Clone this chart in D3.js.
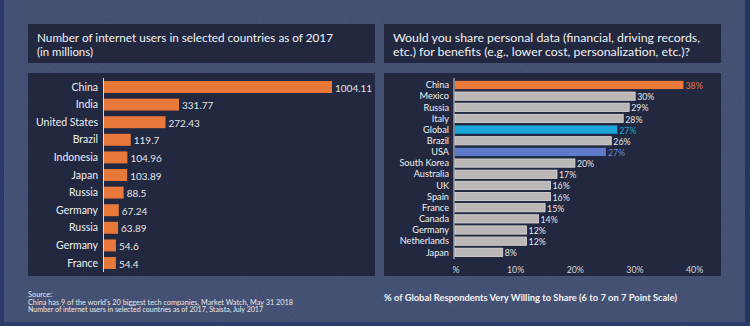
<!DOCTYPE html>
<html><head><meta charset="utf-8">
<script src="https://cdn.jsdelivr.net/npm/d3@7"></script>
<style>
html,body{margin:0;padding:0;background:#3d4a6c;}
svg{display:block;}
text{font-family:"Lato","Open Sans",sans-serif;}
</style></head>
<body>
<svg id="c" width="750" height="326"></svg>
<script>
// ---- Left chart data ----
const leftCountries = ["China","India","United States","Brazil","Indonesia","Japan","Russia","Germany","Russia","Germany","France"];
const leftValues = [1004.11,331.77,272.43,119.7,104.96,103.89,88.5,67.24,63.89,54.6,54.4];
const leftLabels = ["1004.11","331.77","272.43","119.7","104.96","103.89","88.5","67.24","63.89","54.6","54.4"];

// ---- Right chart data ----
const rightCountries = ["China","Mexico","Russia","Italy","Global","Brazil","USA","South Korea","Australia","UK","Spain","France","Canada","Germany","Netherlands","Japan"];
const rightValues = [38.3,30.2,29.2,28.2,27.2,26.2,25.3,20.1,17.1,16,16,15.1,14,12,12,8];
const rightLabels = ["38%","30%","29%","28%","27%","26%","27%","20%","17%","16%","16%","15%","14%","12%","12%","8%"];
const rightTicks = [0,10,20,30,40];
const rightTickLabels = ["%","10%","20%","30%","40%"];

const svg = d3.select("#c");

// texture background
const defs = svg.append("defs");
const f = defs.append("filter").attr("id","tex").attr("x",0).attr("y",0).attr("width","100%").attr("height","100%");
f.append("feTurbulence").attr("type","fractalNoise").attr("baseFrequency","0.9").attr("numOctaves",2).attr("seed",3).attr("result","n");
f.append("feColorMatrix").attr("in","n").attr("type","matrix")
 .attr("values","0 0 0 0 0.25  0 0 0 0 0.3  0 0 0 0 0.45  0 0 0 0.35 0");
svg.append("rect").attr("width",750).attr("height",326).attr("fill","#3f4b6e");
svg.append("rect").attr("width",750).attr("height",326).attr("filter","url(#tex)").attr("opacity",0.5);
svg.append("rect").attr("x",0).attr("y",0).attr("width",4).attr("height",326).attr("fill","#2b3a6a");
svg.append("rect").attr("x",745).attr("y",0).attr("width",5).attr("height",326).attr("fill","#24365f");
svg.append("rect").attr("x",0).attr("y",322).attr("width",750).attr("height",4).attr("fill","#2a3d6a");

const panel = "#212840";
// left panels
svg.append("rect").attr("x",28).attr("y",24).attr("width",347).attr("height",39).attr("fill",panel);
svg.append("rect").attr("x",28).attr("y",73).attr("width",347).attr("height",203).attr("fill",panel);
// right panels
svg.append("rect").attr("x",384).attr("y",24).attr("width",337).attr("height",39).attr("fill",panel);
svg.append("rect").attr("x",384).attr("y",73).attr("width",337).attr("height",203).attr("fill",panel);

// titles
const tl = svg.append("text").attr("y",42).attr("fill","#f2f2f2").attr("font-size",12);
tl.append("tspan").attr("x",37).attr("textLength",296).attr("lengthAdjust","spacingAndGlyphs").text("Number of internet users in selected countries as of 2017");
tl.append("tspan").attr("x",37).attr("dy",14).attr("textLength",56).attr("lengthAdjust","spacingAndGlyphs").text("(in millions)");
const tr = svg.append("text").attr("y",42).attr("fill","#f2f2f2").attr("font-size",12);
tr.append("tspan").attr("x",393).attr("textLength",307).attr("lengthAdjust","spacingAndGlyphs").text("Would you share personal data (financial, driving records,");
tr.append("tspan").attr("x",393).attr("dy",14).attr("textLength",297).attr("lengthAdjust","spacingAndGlyphs").text("etc.) for benefits (e.g., lower cost, personalization, etc.)?");

// ---- Left chart ----
const lx = d3.scaleLinear().domain([0,1004.11]).range([103.5,332]);
const ly = d3.scaleBand().domain(d3.range(leftCountries.length)).range([78.2,271.8]).paddingInner(0.32).paddingOuter(0.16);
const lg = svg.append("g");
lg.selectAll("rect.bar").data(leftValues).join("rect").attr("class","bar")
  .attr("x",lx(0)).attr("y",(d,i)=>ly(i)).attr("width",d=>lx(d)-lx(0)).attr("height",ly.bandwidth())
  .attr("fill","#e8793a");
lg.append("line").attr("x1",103.5).attr("x2",103.5).attr("y1",78).attr("y2",272).attr("stroke","#d9d9d9").attr("stroke-width",1);
lg.selectAll("text.cat").data(leftCountries).join("text").attr("class","cat")
  .attr("x",98).attr("y",(d,i)=>ly(i)+ly.bandwidth()/2).attr("dy","0.35em")
  .attr("text-anchor","end").attr("fill","#f0f0f0").attr("font-size",10.5).text(d=>d);
lg.selectAll("text.val").data(leftValues).join("text").attr("class","val")
  .attr("x",d=>lx(d)+3).attr("y",(d,i)=>ly(i)+ly.bandwidth()/2+1).attr("dy","0.35em")
  .attr("fill","#e6e6e6").attr("font-size",10).text((d,i)=>leftLabels[i]);

// source
const src = svg.append("text").attr("fill","#e8e8e8").attr("font-size",6.6);
src.append("tspan").attr("x",28).attr("y",297).attr("textLength",24).attr("lengthAdjust","spacingAndGlyphs").text("Source:");
src.append("tspan").attr("x",28).attr("y",304.5).attr("textLength",265).attr("lengthAdjust","spacingAndGlyphs").text("China has 9 of the world\u2019s 20 biggest tech companies, Market Watch, May 31 2018");
src.append("tspan").attr("x",28).attr("y",312).attr("textLength",235).attr("lengthAdjust","spacingAndGlyphs").text("Number of internet users in selected countries as of 2017, Staista, July 2017");

// ---- Right chart ----
const rx = d3.scaleLinear().domain([0,40]).range([455,693.6]);
const ry = d3.scaleBand().domain(d3.range(rightCountries.length)).range([79.4,257.9]).paddingInner(0.26).paddingOuter(0.13);
const colorFor = c => c==="China" ? "#e8793a" : c==="Global" ? "#1ba6dc" : c==="USA" ? "#5d7acb" : "#bcb7b7";
const labelColor = c => c==="China" ? "#e8793a" : c==="Global" ? "#1ba6dc" : c==="USA" ? "#7088cc" : "#e6e6e6";
const rg = svg.append("g");
rg.selectAll("rect.bar").data(rightValues).join("rect").attr("class","bar")
  .attr("x",rx(0)).attr("y",(d,i)=>ry(i)).attr("width",d=>rx(d)-rx(0)).attr("height",ry.bandwidth())
  .attr("fill",(d,i)=>colorFor(rightCountries[i]))
  .attr("stroke",(d,i)=>["China","Global","USA"].includes(rightCountries[i])?"none":"#dcdada").attr("stroke-width",0.8);
rg.append("line").attr("x1",454).attr("x2",454).attr("y1",78).attr("y2",259).attr("stroke","#d9d9d9").attr("stroke-width",1);
rg.selectAll("text.cat").data(rightCountries).join("text").attr("class","cat")
  .attr("x",449).attr("y",(d,i)=>ry(i)+ry.bandwidth()/2).attr("dy","0.35em")
  .attr("text-anchor","end").attr("fill","#f0f0f0").attr("font-size",9.2).text(d=>d);
rg.selectAll("text.val").data(rightValues).join("text").attr("class","val")
  .attr("x",d=>rx(d)+2).attr("y",(d,i)=>ry(i)+ry.bandwidth()/2+1).attr("dy","0.35em")
  .attr("fill",(d,i)=>labelColor(rightCountries[i])).attr("font-size",8.8).text((d,i)=>rightLabels[i]);
rg.selectAll("text.tick").data(rightTicks).join("text").attr("class","tick")
  .attr("x",d=>rx(d)+1).attr("y",270).attr("dy","0.35em").attr("text-anchor","middle")
  .attr("fill","#d8d8d8").attr("font-size",8.8).text((d,i)=>rightTickLabels[i]);

svg.append("text").attr("x",384).attr("y",301).attr("fill","#f2f2f2").attr("font-size",9.2).attr("font-weight","bold")
  .attr("textLength",293).attr("lengthAdjust","spacingAndGlyphs")
  .text("% of Global Respondents Very Willing to Share (6 to 7 on 7 Point Scale)");
</script>
</body></html>
